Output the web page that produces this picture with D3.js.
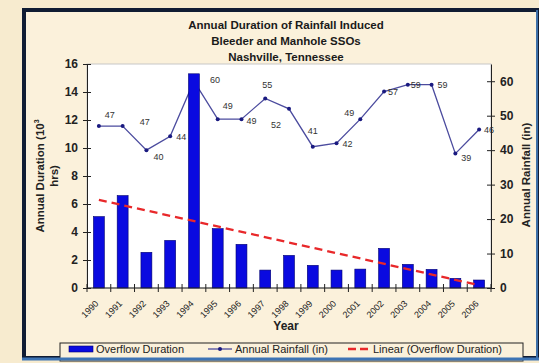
<!DOCTYPE html>
<html><head><meta charset="utf-8">
<script src="https://cdn.jsdelivr.net/npm/d3@7"></script>
<style>body{margin:0;background:#f7ebcf;}svg{display:block;font-family:"Liberation Sans",Arial,sans-serif;}</style>
</head><body><svg id="c" width="539" height="363"></svg>
<script>
const years = ["1990","1991","1992","1993","1994","1995","1996","1997","1998","1999","2000","2001","2002","2003","2004","2005","2006"];
const overflowDuration = [5.1,6.6,2.55,3.4,15.3,4.24,3.12,1.28,2.33,1.62,1.28,1.35,2.83,1.69,1.33,0.69,0.57];
const annualRainfall = [47,47,40,44,60,49,49,55,52,41,42,49,57,59,59,39,46];
const leftTicks = [0,2,4,6,8,10,12,14,16];
const rightTicks = [0,10,20,30,40,50,60];
const titleLines = ["Annual Duration of Rainfall Induced","Bleeder and Manhole SSOs","Nashville, Tennessee"];
// label offsets (layout only)
const labelOffsets = [[11,-12],[22,-5],[12,6],[11,0],[21,-2],[10,-14],[10,1],[2,-14],[-13,16],[0,-16],[11,0],[-11,-7],[9,0],[8,0],[11,0],[11,4],[10,0]];

const svg = d3.select("#c");
// frame
svg.append("rect").attr("x",0).attr("y",0).attr("width",539).attr("height",363).attr("fill","#f7ebcf");
svg.append("rect").attr("x",24).attr("y",10).attr("width",514).attr("height",348)
  .attr("fill","#fbf1db").attr("stroke","#101c33").attr("stroke-width",4);
svg.append("line").attr("x1",537).attr("x2",537).attr("y1",10).attr("y2",360).attr("stroke","#3d6fa8").attr("stroke-width",2);

const L=87,R=491,T=64,B=288;
const x = d3.scaleBand().domain(years).range([L,R]).paddingInner(0.54).paddingOuter(0.27);
const xb = d3.scaleBand().domain(years).range([L,R]);
const yL = d3.scaleLinear().domain([0,16]).range([B,T]);
const yR = d3.scaleLinear().domain([0,65]).range([B,T]);

svg.append("rect").attr("x",L).attr("y",T).attr("width",R-L).attr("height",B-T).attr("fill","#ffffff").attr("stroke","#c8c8c8").attr("stroke-width",1);

// title
svg.append("g").selectAll("text").data(titleLines).join("text")
  .attr("x",286).attr("y",(d,i)=>29+i*16).attr("text-anchor","middle")
  .attr("font-size",11.5).attr("font-weight","bold").attr("fill","#1a1a1a").text(d=>d);

// rainfall line (behind bars)
const cx = d=>xb(d)+xb.bandwidth()/2;
const line = d3.line().x((d,i)=>cx(years[i])).y(d=>yR(d));
svg.append("path").datum(annualRainfall).attr("d",line).attr("fill","none").attr("stroke","#4b4b9e").attr("stroke-width",1.3);
svg.append("g").selectAll("circle").data(annualRainfall).join("circle")
  .attr("cx",(d,i)=>cx(years[i])).attr("cy",d=>yR(d)).attr("r",2).attr("fill","#1a1a80");

// bars
svg.append("g").selectAll("rect").data(overflowDuration).join("rect")
  .attr("x",(d,i)=>x(years[i])).attr("width",x.bandwidth())
  .attr("y",d=>yL(d)).attr("height",d=>B-yL(d))
  .attr("fill","#0a0ae0").attr("stroke","#00006e").attr("stroke-width",0.6);

// rainfall labels
svg.append("g").selectAll("text").data(annualRainfall).join("text")
  .attr("x",(d,i)=>cx(years[i])+labelOffsets[i][0]).attr("y",(d,i)=>yR(d)+labelOffsets[i][1]+3.5)
  .attr("text-anchor","middle").attr("font-size",9).attr("fill","#333").text(d=>d);

// trendline
const n=overflowDuration.length;
const xs=d3.range(1,n+1);
const mx=d3.mean(xs), my=d3.mean(overflowDuration);
const slope=d3.sum(xs,(v,i)=>(v-mx)*(overflowDuration[i]-my))/d3.sum(xs,v=>(v-mx)*(v-mx));
const icpt=my-slope*mx;
svg.append("line").attr("x1",cx(years[0])).attr("y1",yL(icpt+slope*1))
  .attr("x2",cx(years[n-1])).attr("y2",yL(icpt+slope*n))
  .attr("stroke","#e8282a").attr("stroke-width",2.3).attr("stroke-dasharray","8,5");

// axes
const gl = svg.append("g").attr("transform",`translate(${L},0)`)
  .call(d3.axisLeft(yL).tickValues(leftTicks).tickSize(0).tickPadding(9));
gl.select(".domain").attr("stroke","#222");
gl.selectAll("text").attr("font-size",12).attr("font-weight","bold").attr("fill","#222").attr("font-family","Liberation Sans, Arial");
gl.selectAll(".tick").append("line").attr("x1",-4).attr("x2",4).attr("stroke","#222");

const gr = svg.append("g").attr("transform",`translate(${R},0)`)
  .call(d3.axisRight(yR).tickValues(rightTicks).tickSize(0).tickPadding(9));
gr.select(".domain").attr("stroke","#222");
gr.selectAll("text").attr("font-size",12).attr("font-weight","bold").attr("fill","#222").attr("font-family","Liberation Sans, Arial");
gr.selectAll(".tick").append("line").attr("x1",-4).attr("x2",4).attr("stroke","#222");

// x axis
svg.append("line").attr("x1",L).attr("x2",R).attr("y1",B).attr("y2",B).attr("stroke","#222");
svg.append("g").selectAll("line").data(years.concat(["end"])).join("line")
  .attr("x1",(d,i)=>L+i*xb.bandwidth()).attr("x2",(d,i)=>L+i*xb.bandwidth())
  .attr("y1",B-4).attr("y2",B+4).attr("stroke","#222");
svg.append("g").selectAll("text").data(years).join("text")
  .attr("transform",d=>`translate(${cx(d)-2},${B+14}) rotate(-45)`)
  .attr("text-anchor","end").attr("dy","0.35em").attr("font-size",9).attr("fill","#222").text(d=>d);
svg.append("text").attr("x",286).attr("y",330).attr("text-anchor","middle").attr("font-size",12).attr("font-weight","bold").attr("fill","#222").text("Year");

// axis titles
const lt = svg.append("text").attr("transform","translate(44,176) rotate(-90)").attr("text-anchor","middle")
  .attr("font-size",11.5).attr("font-weight","bold").attr("fill","#222");
lt.append("tspan").attr("x",0).attr("dy",0).text("Annual Duration (10");
lt.append("tspan").attr("font-size",7).attr("dy",-5).text("3");
lt.append("tspan").attr("x",0).attr("dy",19).text("hrs)");
svg.append("text").attr("transform","translate(530,175) rotate(-90)").attr("text-anchor","middle")
  .attr("font-size",11.5).attr("font-weight","bold").attr("fill","#222").text("Annual Rainfall (in)");

// legend
const lg = svg.append("g");
lg.append("rect").attr("x",60).attr("y",343).attr("width",463).attr("height",18).attr("fill","#fbf1db").attr("stroke","#222").attr("stroke-width",1);
lg.append("rect").attr("x",69).attr("y",346).attr("width",24).attr("height",6).attr("fill","#0a0ae0").attr("stroke","#00006e").attr("stroke-width",0.6);
lg.append("text").attr("x",96).attr("y",353).attr("font-size",11).attr("fill","#222").text("Overflow Duration");
lg.append("line").attr("x1",208).attr("x2",232).attr("y1",349).attr("y2",349).attr("stroke","#4b4b9e").attr("stroke-width",1.3);
lg.append("circle").attr("cx",220).attr("cy",349).attr("r",2).attr("fill","#1a1a80");
lg.append("text").attr("x",235).attr("y",353).attr("font-size",11).attr("fill","#222").text("Annual Rainfall (in)");
lg.append("line").attr("x1",348).attr("x2",370).attr("y1",349).attr("y2",349).attr("stroke","#e8282a").attr("stroke-width",2.3).attr("stroke-dasharray","8,4");
lg.append("text").attr("x",373).attr("y",353).attr("font-size",11).attr("fill","#222").text("Linear (Overflow Duration)");
svg.append("line").attr("x1",22).attr("x2",539).attr("y1",359).attr("y2",359).attr("stroke","#3d74b5").attr("stroke-width",3);
</script></body></html>
